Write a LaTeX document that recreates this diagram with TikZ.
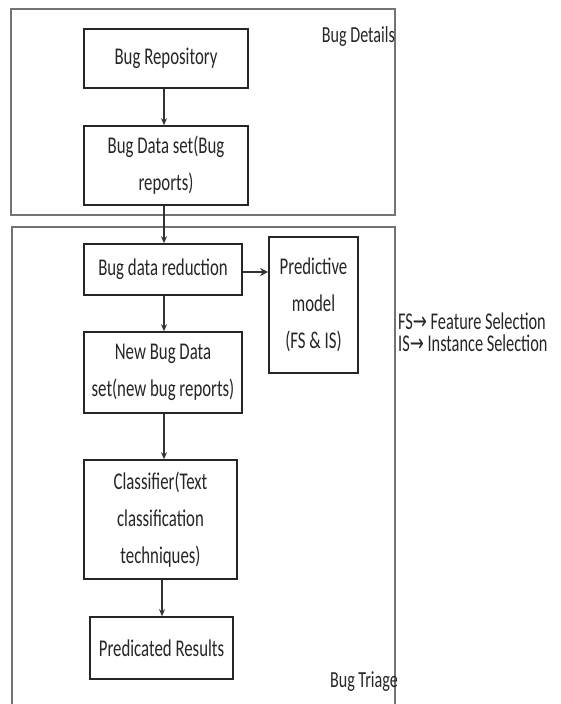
\documentclass[tikz,border=0pt]{standalone}
\usepackage{fontspec}
\setmainfont{Carlito}[FakeStretch=0.7]
\newfontfamily\legendfont{Carlito}[FakeStretch=0.68]
\newfontfamily\arrowfont{DejaVu Sans}[FakeStretch=0.7]
\usetikzlibrary{arrows.meta}
\begin{document}
\begin{tikzpicture}[x=1pt,y=-1pt,
  box/.style={draw=black!85, line width=1.6pt, inner sep=0pt, align=center,
    text=black!85, font=\fontsize{24}{37}\selectfont},
  frame/.style={draw=black!55, line width=1.4pt},
  arr/.style={draw=black!80, line width=1.3pt, -{Stealth[length=7pt,width=6pt]}},
  thickarr/.style={draw=black!80, line width=2.6pt, -{Stealth[length=8pt,width=8pt]}},
  lbl/.style={inner sep=0pt, text=black!85, font=\fontsize{23}{30}\selectfont},
  legend/.style={inner sep=0pt, text=black!85, font=\legendfont\fontsize{24}{30}\selectfont}]
\useasboundingbox (0,0) rectangle (560,704);
\fill[white] (0,0) rectangle (560,704);

% containers
\draw[frame] (11,9) rectangle (395,215);
\draw[frame] (12,704) -- (12,227) -- (395,227) -- (395,704);

% boxes
\node[box, minimum width=164pt, minimum height=59pt] (repo) at (166,58.5) {Bug Repository};
\node[box, minimum width=164pt, minimum height=79pt] (dataset) at (166,165.5) {Bug Data set(Bug\\reports)};
\node[box, minimum width=158pt, minimum height=51pt] (reduction) at (163,269.5) {Bug data reduction};
\node[box, minimum width=89pt, minimum height=136pt] (predictive) at (313.5,305) {Predictive\\model\\(FS \& IS)};
\node[box, minimum width=158pt, minimum height=81pt] (newbug) at (163,372.5) {New Bug Data\\set(new bug reports)};
\node[box, minimum width=153pt, minimum height=119pt] (classifier) at (160.5,519.5) {Classifier(Text\\classification\\techniques)};
\node[box, minimum width=143pt, minimum height=62pt] (results) at (161.5,648) {Predicated Results};

% labels
\node[lbl, anchor=base east] (details) at (395,42) {Bug Details};
\node[lbl, anchor=base east] (triage) at (398,687) {Bug Triage};
\node[legend, anchor=base west] (fs) at (398,329) {FS{\arrowfont →} Feature Selection};
\node[legend, anchor=base west] (is) at (398,351) {IS{\arrowfont →} Instance Selection};

% connectors
\draw[arr] (repo.south -| 164,0) -- (dataset.north -| 164,0);
\draw[arr] (dataset.south -| 164,0) -- (reduction.north -| 164,0);
\draw[arr] (reduction.south -| 164,0) -- (newbug.north -| 164,0);
\draw[arr] (newbug.south -| 164,0) -- (classifier.north -| 164,0);
\draw[arr] (classifier.south -| 162,0) -- (results.north -| 162,0);
\draw[thickarr] (reduction.east |- 0,272) -- (predictive.west |- 0,272);
\end{tikzpicture}
\end{document}
